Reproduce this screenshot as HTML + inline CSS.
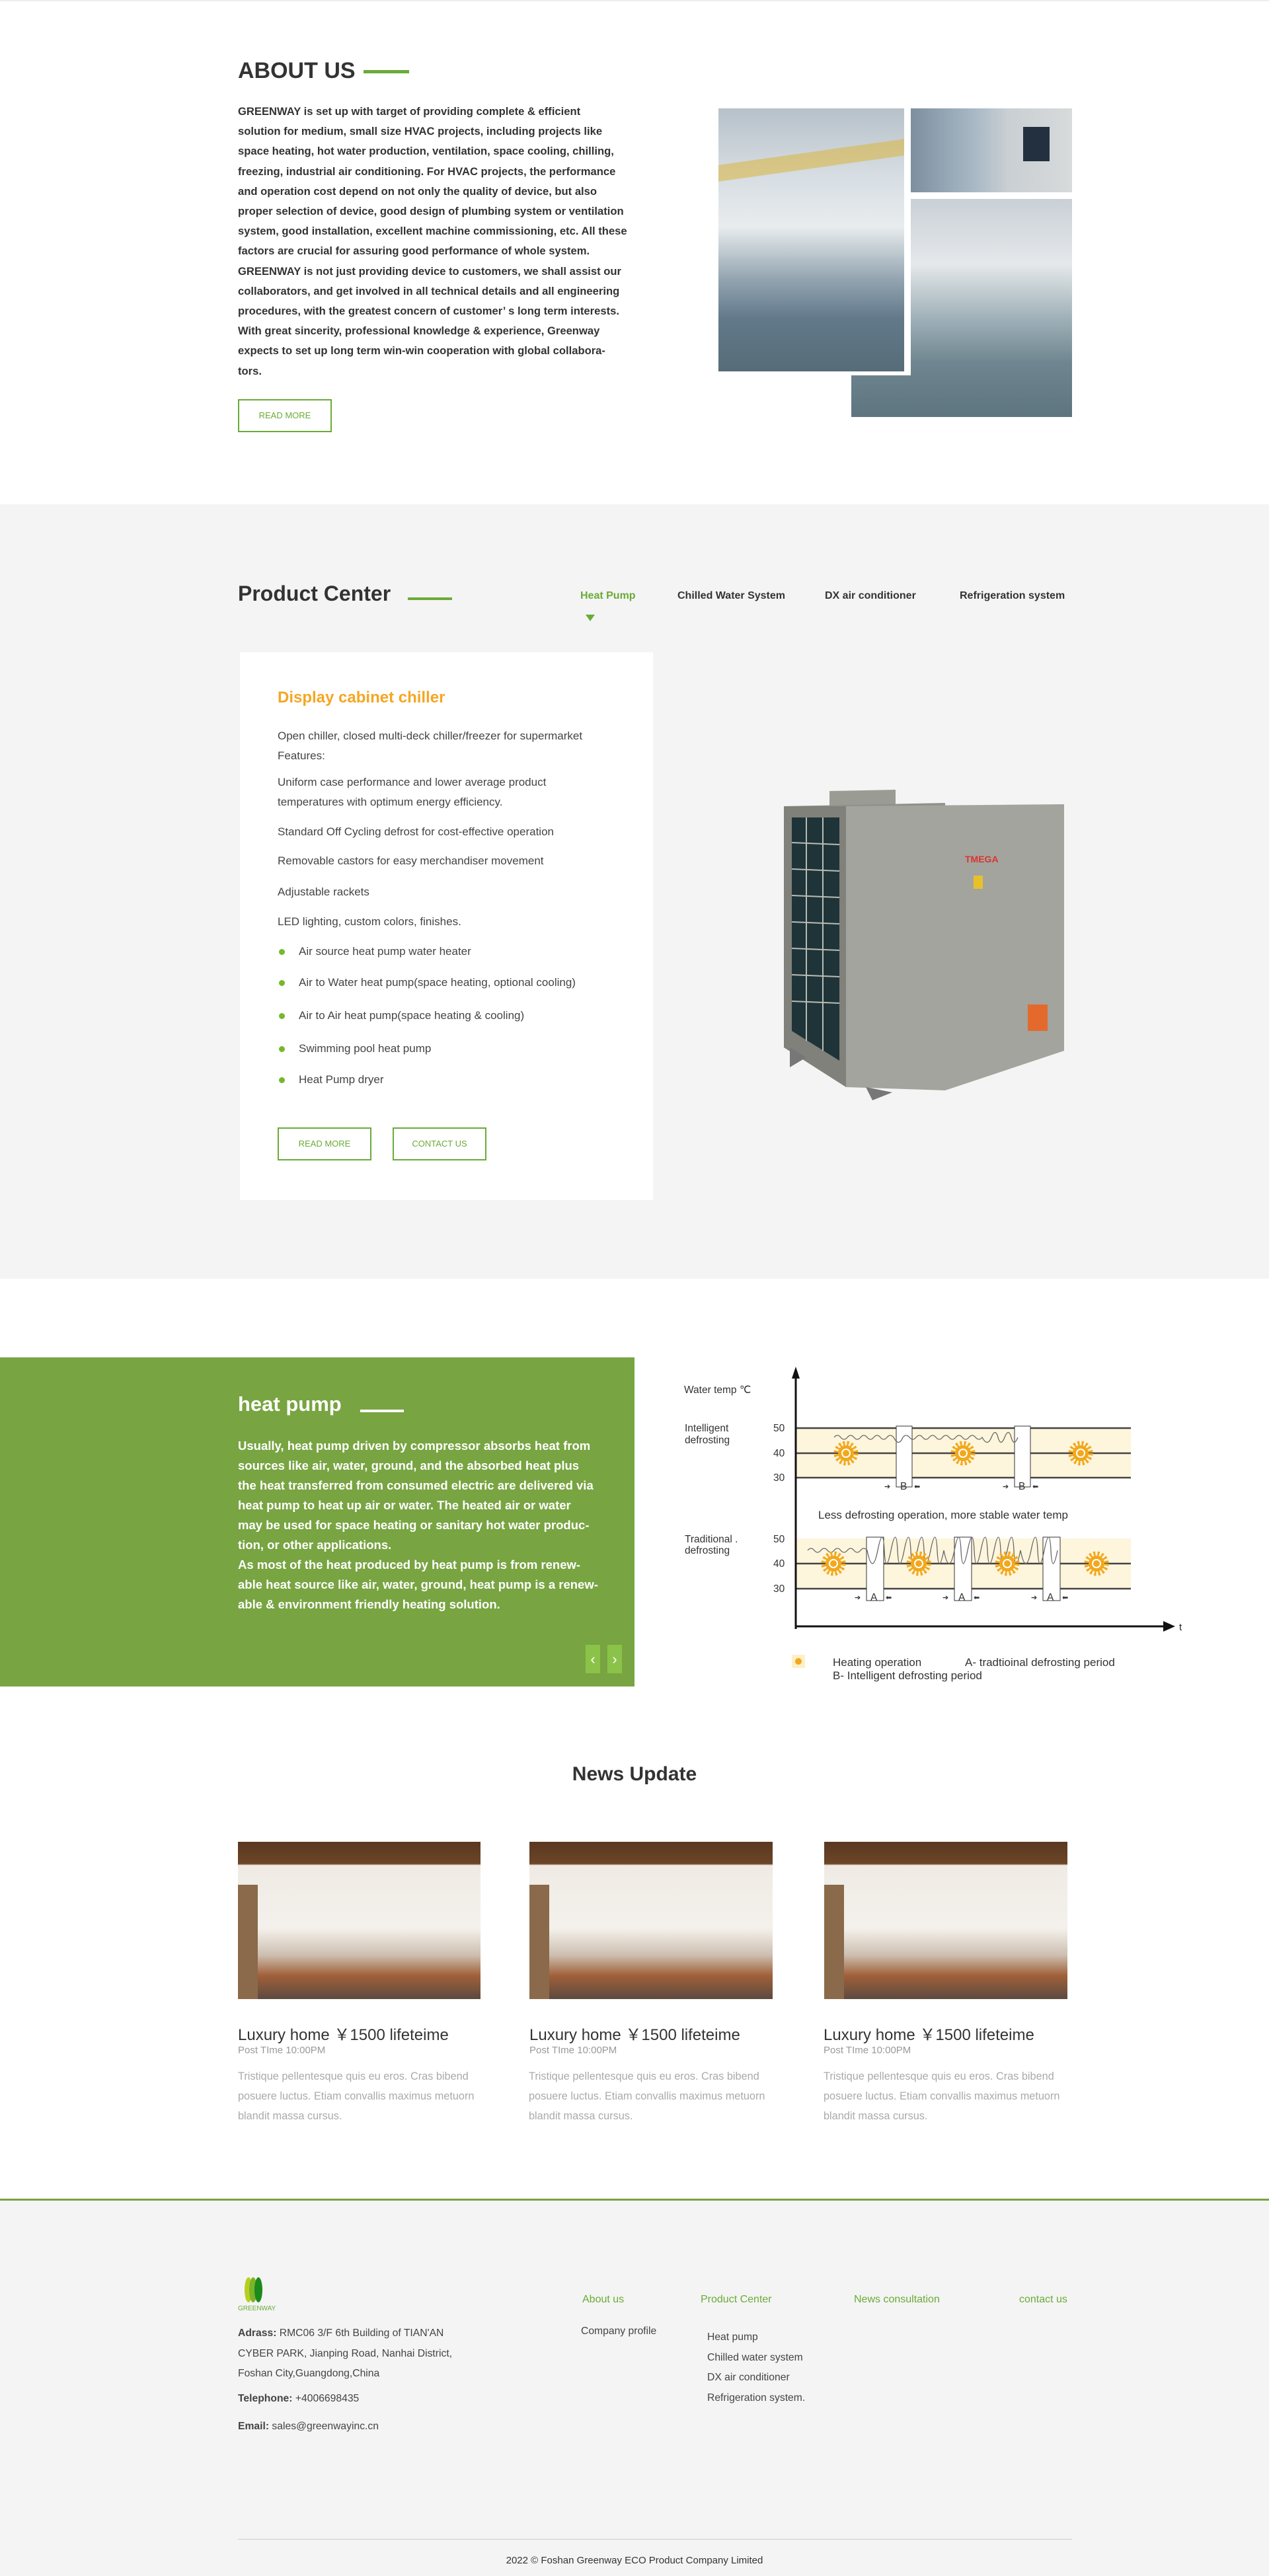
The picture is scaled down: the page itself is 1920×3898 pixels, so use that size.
<!DOCTYPE html>
<html><head><meta charset="utf-8">
<style>
*{margin:0;padding:0;box-sizing:border-box}
body{width:1920px;height:3898px;position:relative;background:#fff;font-family:"Liberation Sans",sans-serif;color:#333;overflow:hidden}
.a{position:absolute;white-space:nowrap}
.btn{position:absolute;border:2px solid #6aab37;color:#6aab37;font-size:13px;text-align:center;line-height:46px;background:#fff}
.g{color:#6aab37}
.pt{font-size:17px;color:#444;left:420px}
.dot{position:absolute;width:9px;height:9px;border-radius:50%;background:#76b82a;left:422px}
.nt{font-size:24px;color:#333}
.np{font-size:15px;color:#999}
.nx{font-size:16.3px;color:#aaa;line-height:30px}
.fl{font-size:15.7px;color:#444}
</style></head><body>

<!-- ABOUT -->
<div class="a" style="left:0;top:0;width:1920px;height:2px;background:#eee"></div>
<div class="a" style="left:360px;top:88px;font-size:34px;font-weight:bold;color:#333">ABOUT US</div>
<div class="a" style="left:550px;top:106px;width:69px;height:5px;background:#6aab37"></div>
<div class="a" style="left:360px;top:154px;font-size:16.6px;font-weight:bold;line-height:30.2px;color:#333">GREENWAY is set up with target of providing complete &amp; efficient<br>solution for medium, small size HVAC projects, including projects like<br>space heating, hot water production, ventilation, space cooling, chilling,<br>freezing, industrial air conditioning. For HVAC projects, the performance<br>and operation cost depend on not only the quality of device, but also<br>proper selection of device, good design of plumbing system or ventilation<br>system, good installation, excellent machine commissioning, etc. All these<br>factors are crucial for assuring good performance of whole system.<br>GREENWAY is not just providing device to customers, we shall assist our<br>collaborators, and get involved in all technical details and all engineering<br>procedures, with the greatest concern of customer’ s long term interests.<br>With great sincerity, professional knowledge &amp; experience, Greenway<br>expects to set up long term win-win cooperation with global collabora-<br>tors.</div>
<div class="btn" style="left:360px;top:604px;width:142px;height:50px">READ MORE</div>

<div class="a" style="left:1288px;top:301px;width:334px;height:330px;background:linear-gradient(180deg,#c9d0d6 0%,#e4e8ea 30%,#9fb0b8 55%,#6f8690 75%,#5d7580 100%)"></div>
<div class="a" style="left:1378px;top:164px;width:244px;height:127px;background:linear-gradient(90deg,#7d8fa0 0%,#a9b9c6 40%,#c9cfd3 60%,#d8dadb 100%)"></div>
<div class="a" style="left:1548px;top:192px;width:40px;height:52px;background:#233040"></div>
<div class="a" style="left:1082px;top:159px;width:296px;height:409px;background:#fff"></div>
<div class="a" style="left:1087px;top:164px;width:281px;height:398px;background:linear-gradient(180deg,#b7c1c9 0%,#d6dde2 25%,#e8ecee 45%,#93a4b0 65%,#62798a 80%,#566c78 100%)"></div>
<div class="a" style="left:1087px;top:230px;width:281px;height:25px;background:#d9b74a;opacity:.6;transform:skewY(-8deg)"></div>

<!-- PRODUCT -->
<div class="a" style="left:0;top:763px;width:1920px;height:1172px;background:#f4f4f4"></div>
<div class="a" style="left:360px;top:880px;font-size:32px;font-weight:bold;color:#333">Product Center</div>
<div class="a" style="left:617px;top:904px;width:67px;height:4px;background:#6aab37"></div>
<div class="a" style="left:878px;top:893px;font-size:16px;font-weight:bold;color:#6aab37">Heat Pump</div>
<div class="a" style="left:1025px;top:893px;font-size:16px;font-weight:bold;color:#333">Chilled Water System</div>
<div class="a" style="left:1248px;top:893px;font-size:16px;font-weight:bold;color:#333">DX air conditioner</div>
<div class="a" style="left:1452px;top:893px;font-size:16px;font-weight:bold;color:#333">Refrigeration system</div>
<div class="a" style="left:886px;top:930px;width:0;height:0;border-left:7px solid transparent;border-right:7px solid transparent;border-top:10px solid #6aab37"></div>

<div class="a" style="left:363px;top:987px;width:625px;height:829px;background:#fff"></div>
<div class="a" style="left:420px;top:1042px;font-size:24px;font-weight:bold;color:#f5a623">Display cabinet chiller</div>
<div class="a pt" style="top:1099px;line-height:30px">Open chiller, closed multi-deck chiller/freezer for supermarket<br>Features:</div>
<div class="a pt" style="top:1169px;line-height:30px">Uniform case performance and lower average product<br>temperatures with optimum energy efficiency.</div>
<div class="a pt" style="top:1249px">Standard Off Cycling defrost for cost-effective operation</div>
<div class="a pt" style="top:1293px">Removable castors for easy merchandiser movement</div>
<div class="a pt" style="top:1340px">Adjustable rackets</div>
<div class="a pt" style="top:1385px">LED lighting, custom colors, finishes.</div>
<div class="dot" style="top:1436px"></div><div class="a pt" style="left:452px;top:1430px">Air source heat pump water heater</div>
<div class="dot" style="top:1483px"></div><div class="a pt" style="left:452px;top:1477px">Air to Water heat pump(space heating, optional cooling)</div>
<div class="dot" style="top:1533px"></div><div class="a pt" style="left:452px;top:1527px">Air to Air heat pump(space heating &amp; cooling)</div>
<div class="dot" style="top:1583px"></div><div class="a pt" style="left:452px;top:1577px">Swimming pool heat pump</div>
<div class="dot" style="top:1630px"></div><div class="a pt" style="left:452px;top:1624px">Heat Pump dryer</div>
<div class="btn" style="left:420px;top:1706px;width:142px;height:50px">READ MORE</div>
<div class="btn" style="left:594px;top:1706px;width:142px;height:50px">CONTACT US</div>

<svg class="a" style="left:1180px;top:1175px" width="440" height="510" viewBox="0 0 440 510">
<polygon points="75,22 175,20 175,45 75,45" fill="#9a9c94"/>
<polygon points="6,45 250,40 250,475 6,410" fill="#8f918a"/>
<polygon points="100,45 430,42 430,415 250,475 100,470" fill="#a2a49d"/>
<polygon points="6,45 100,45 100,470 6,410" fill="#7f817a"/>
<polygon points="18,62 90,62 90,430 18,385" fill="#1f3438"/>
<g stroke="#b9bcb5" stroke-width="2">
<line x1="18" y1="100" x2="90" y2="103"/><line x1="18" y1="140" x2="90" y2="143"/><line x1="18" y1="180" x2="90" y2="183"/><line x1="18" y1="220" x2="90" y2="223"/><line x1="18" y1="260" x2="90" y2="263"/><line x1="18" y1="300" x2="90" y2="303"/><line x1="18" y1="340" x2="90" y2="343"/><line x1="40" y1="62" x2="40" y2="400"/><line x1="65" y1="62" x2="65" y2="415"/></g>
<text x="280" y="130" fill="#d33" font-size="14" font-weight="bold" font-family="Liberation Sans">TMEGA</text>
<rect x="293" y="150" width="14" height="20" fill="#e8c12a"/>
<rect x="375" y="345" width="30" height="40" fill="#e36a2c"/>
<polygon points="15,410 40,425 15,440" fill="#777"/><polygon points="130,470 170,478 140,490" fill="#777"/>
</svg>

<!-- HEAT PUMP -->
<div class="a" style="left:0;top:2054px;width:960px;height:498px;background:#78a442"></div>
<div class="a" style="left:360px;top:2107px;font-size:31px;font-weight:bold;color:#fff">heat pump</div>
<div class="a" style="left:545px;top:2133px;width:66px;height:4px;background:#fff"></div>
<div class="a" style="left:360px;top:2173px;font-size:18.5px;font-weight:bold;color:#fff;line-height:30px">Usually, heat pump driven by compressor absorbs heat from<br>sources like air, water, ground, and the absorbed heat plus<br>the heat transferred from consumed electric are delivered via<br>heat pump to heat up air or water. The heated air or water<br>may be used for space heating or sanitary hot water produc-<br>tion, or other applications.<br>As most of the heat produced by heat pump is from renew-<br>able heat source like air, water, ground, heat pump is a renew-<br>able &amp; environment friendly heating solution.</div>
<div class="a" style="left:886px;top:2489px;width:22px;height:43px;background:#8bc34a;color:#fff;font-size:22px;text-align:center;line-height:43px">‹</div>
<div class="a" style="left:919px;top:2489px;width:22px;height:43px;background:#8bc34a;color:#fff;font-size:22px;text-align:center;line-height:43px">›</div>

<svg class="a" style="left:1000px;top:2040px" width="820" height="540" viewBox="1000 2040 820 540" font-family="Liberation Sans">
<defs>
<g id="sun"><circle r="15" fill="none" stroke="#f2a81d" stroke-width="7" stroke-dasharray="3 3"/><circle r="12" fill="#f2a81d"/><circle r="7" fill="#fff"/><circle r="5" fill="#f2a81d"/></g>
</defs>
<rect x="1204" y="2161" width="507" height="75" fill="#fdf5dc"/>
<rect x="1204" y="2328" width="507" height="76" fill="#fdf5dc"/>
<g stroke="#444" stroke-width="2.5">
<line x1="1204" y1="2161" x2="1711" y2="2161"/><line x1="1204" y1="2199" x2="1711" y2="2199"/><line x1="1204" y1="2236" x2="1711" y2="2236"/>
<line x1="1204" y1="2366" x2="1711" y2="2366"/><line x1="1204" y1="2404" x2="1711" y2="2404"/>
</g>
<g fill="#fff" stroke="#333" stroke-width="1">
<rect x="1356" y="2158" width="24" height="92"/><rect x="1535" y="2158" width="24" height="92"/>
<rect x="1311" y="2326" width="26" height="96"/><rect x="1444" y="2326" width="26" height="96"/><rect x="1578" y="2326" width="26" height="96"/>
</g>
<path d="M1262 2175 q5 -6 10 0 t10 0 t10 0 t10 0 t10 0 t10 0 t10 0 t10 0 t10 0 q8 15 14 0 q5 -6 10 0 t10 0 t10 0 t10 0 t10 0 t10 0 t10 0 t10 0 t10 0 t10 0 t10 0 t10 0 q8 15 14 0 t10 0 t10 0 t10 0 t10 0" fill="none" stroke="#666" stroke-width="1.3"/>
<path d="M1222 2346 q5 -6 10 0 t10 0 t10 0 t10 0 t10 0 t10 0 t10 0 t10 0 t10 0 q8 40 16 0 t10 0 t10 0 t10 0 t10 0 t10 0 t10 0 t10 0 t10 0 t10 0 t10 0 q8 40 16 0 t10 0 t10 0 t10 0 t10 0 t10 0 t10 0 t10 0 t10 0 t10 0 t10 0 q8 40 16 0 t10 0 t10 0 t10 0 t10 0" fill="none" stroke="#666" stroke-width="1.3"/>
<use href="#sun" x="1280" y="2199"/><use href="#sun" x="1457" y="2199"/><use href="#sun" x="1635" y="2199"/>
<use href="#sun" x="1261" y="2366"/><use href="#sun" x="1390" y="2366"/><use href="#sun" x="1524" y="2366"/><use href="#sun" x="1659" y="2366"/>
<line x1="1204" y1="2465" x2="1204" y2="2082" stroke="#111" stroke-width="3"/>
<polygon points="1198,2086 1204,2068 1210,2086" fill="#111"/>
<line x1="1204" y1="2461" x2="1764" y2="2461" stroke="#111" stroke-width="3"/>
<polygon points="1760,2453 1778,2461 1760,2469" fill="#111"/>
<text x="1784" y="2467" font-size="15" fill="#222">t</text>
<g font-size="15.5" fill="#333">
<text x="1035" y="2108">Water temp ℃</text>
<text x="1036" y="2166">Intelligent</text><text x="1036" y="2184">defrosting</text>
<text x="1036" y="2334">Traditional .</text><text x="1036" y="2351">defrosting</text>
<text x="1170" y="2166">50</text><text x="1170" y="2204">40</text><text x="1170" y="2241">30</text>
<text x="1170" y="2334">50</text><text x="1170" y="2371">40</text><text x="1170" y="2409">30</text>
<text x="1238" y="2298" font-size="17">Less defrosting operation, more stable water temp</text>
<text x="1362" y="2254">B</text><text x="1541" y="2254">B</text>
<text x="1317" y="2422">A</text><text x="1450" y="2422">A</text><text x="1584" y="2422">A</text>
<text x="1260" y="2521" font-size="17">Heating operation</text><text x="1460" y="2521" font-size="17">A- tradtioinal defrosting period</text>
<text x="1260" y="2541" font-size="17">B- Intelligent defrosting period</text>
</g>
<g font-size="11" fill="#333"><text x="1338" y="2253">➔</text><text x="1383" y="2253">⬅</text><text x="1517" y="2253">➔</text><text x="1562" y="2253">⬅</text>
<text x="1293" y="2421">➔</text><text x="1340" y="2421">⬅</text><text x="1426" y="2421">➔</text><text x="1473" y="2421">⬅</text><text x="1560" y="2421">➔</text><text x="1607" y="2421">⬅</text></g>
<rect x="1198" y="2504" width="20" height="20" fill="#fdf0c8"/><circle cx="1208" cy="2514" r="5" fill="#f2a81d"/>
</svg>

<!-- NEWS -->
<div class="a" style="left:0;top:2668px;width:1920px;text-align:center;font-size:30px;color:#333;font-weight:bold">News Update</div>
<div class="a" style="left:360px;top:2787px;width:367px;height:238px;background:linear-gradient(180deg,#5a3820 0%,#6b4527 14%,#efeae4 15%,#f4f1ec 55%,#cdbfb0 72%,#a0603a 85%,#5c4a40 100%)"></div>
<div class="a" style="left:801px;top:2787px;width:368px;height:238px;background:linear-gradient(180deg,#5a3820 0%,#6b4527 14%,#efeae4 15%,#f4f1ec 55%,#cdbfb0 72%,#a0603a 85%,#5c4a40 100%)"></div>
<div class="a" style="left:1247px;top:2787px;width:368px;height:238px;background:linear-gradient(180deg,#5a3820 0%,#6b4527 14%,#efeae4 15%,#f4f1ec 55%,#cdbfb0 72%,#a0603a 85%,#5c4a40 100%)"></div>
<div class="a" style="left:360px;top:2852px;width:30px;height:173px;background:#8a6a4a"></div>
<div class="a" style="left:801px;top:2852px;width:30px;height:173px;background:#8a6a4a"></div>
<div class="a" style="left:1247px;top:2852px;width:30px;height:173px;background:#8a6a4a"></div>

<div class="a nt" style="left:360px;top:3059px">Luxury home ￥1500 lifeteime</div>
<div class="a nt" style="left:801px;top:3059px">Luxury home ￥1500 lifeteime</div>
<div class="a nt" style="left:1246px;top:3059px">Luxury home ￥1500 lifeteime</div>
<div class="a np" style="left:360px;top:3094px">Post TIme 10:00PM</div>
<div class="a np" style="left:801px;top:3094px">Post TIme 10:00PM</div>
<div class="a np" style="left:1246px;top:3094px">Post TIme 10:00PM</div>
<div class="a nx" style="left:360px;top:3127px">Tristique pellentesque quis eu eros. Cras bibend<br>posuere luctus. Etiam convallis maximus metuorn<br>blandit massa cursus.</div>
<div class="a nx" style="left:800px;top:3127px">Tristique pellentesque quis eu eros. Cras bibend<br>posuere luctus. Etiam convallis maximus metuorn<br>blandit massa cursus.</div>
<div class="a nx" style="left:1246px;top:3127px">Tristique pellentesque quis eu eros. Cras bibend<br>posuere luctus. Etiam convallis maximus metuorn<br>blandit massa cursus.</div>

<!-- FOOTER -->
<div class="a" style="left:0;top:3327px;width:1920px;height:571px;background:#f4f4f4"></div>
<div class="a" style="left:0;top:3327px;width:1920px;height:3px;background:#78a442"></div>
<div class="a" style="left:370px;top:3446px;width:12px;height:38px;border-radius:50%;background:#b6cf1f"></div>
<div class="a" style="left:377px;top:3446px;width:12px;height:38px;border-radius:50%;background:#7cb32a"></div>
<div class="a" style="left:385px;top:3446px;width:12px;height:38px;border-radius:50%;background:#1a8a1a"></div>
<div class="a" style="left:360px;top:3488px;font-size:10px;color:#6aab37">GREENWAY</div>
<div class="a fl" style="left:360px;top:3516px;line-height:30.5px"><b>Adrass:</b> RMC06 3/F 6th Building of TIAN'AN<br>CYBER PARK, Jianping Road, Nanhai District,<br>Foshan City,Guangdong,China</div>
<div class="a fl" style="left:360px;top:3621px"><b>Telephone:</b> +4006698435</div>
<div class="a fl" style="left:360px;top:3663px"><b>Email:</b> sales@greenwayinc.cn</div>
<div class="a g" style="left:881px;top:3471px;font-size:16px">About us</div>
<div class="a g" style="left:1060px;top:3471px;font-size:16px">Product Center</div>
<div class="a g" style="left:1292px;top:3471px;font-size:16px">News consultation</div>
<div class="a g" style="left:1542px;top:3471px;font-size:16px">contact us</div>
<div class="a fl" style="left:879px;top:3519px">Company profile</div>
<div class="a fl" style="left:1070px;top:3522px;line-height:30.5px">Heat pump<br>Chilled water system<br>DX air conditioner<br>Refrigeration system.</div>
<div class="a" style="left:360px;top:3842px;width:1262px;height:1px;background:#ccc"></div>
<div class="a" style="left:0;top:3866px;width:1920px;text-align:center;font-size:15px;color:#333">2022 © Foshan Greenway ECO Product Company Limited</div>
</body></html>
